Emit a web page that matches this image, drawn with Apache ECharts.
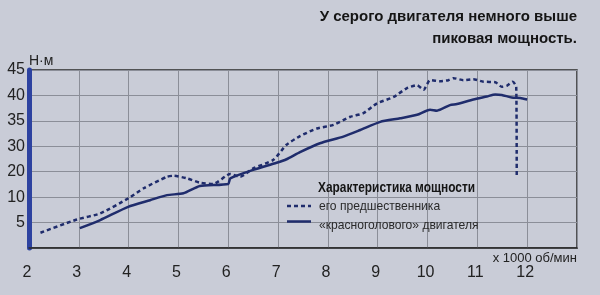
<!DOCTYPE html>
<html>
<head>
<meta charset="utf-8">
<script src="https://cdn.jsdelivr.net/npm/echarts@6/dist/echarts.min.js"></script>
<style>
html,body{margin:0;padding:0;background:#c9ccd7;}
#chart{width:600px;height:295px;}
</style>
</head>
<body>
<div id="chart"></div>
<script>
// Tick labels (the original y axis has evenly spaced gridlines with uneven labels)
var yTickValues = [0, 5, 10, 20, 30, 35, 40, 45];
var xTicks = [2, 3, 4, 5, 6, 7, 8, 9, 10, 11, 12];

// Series: predecessor (dashed)
var prevRpm = [2.23, 2.96, 3.43, 4.0, 4.3, 4.77, 4.9, 5.17, 5.43, 5.7, 6.04, 6.24, 6.5, 6.9, 7.17, 7.44, 7.78, 8.11, 8.45, 8.71, 8.98, 9.32, 9.58, 9.79, 9.92, 10.05, 10.25, 10.42, 10.52, 10.72, 10.92, 11.12, 11.36, 11.49, 11.59, 11.71, 11.78, 11.79];
var prevTorque = [3.0, 5.6, 6.8, 9.8, 13.5, 18.0, 18.4, 17.4, 15.7, 15.2, 19.1, 18.0, 21.3, 24.6, 30.3, 32.0, 33.5, 34.2, 35.8, 36.5, 38.4, 39.7, 41.4, 42.0, 41.1, 43.0, 42.8, 43.0, 43.4, 43.0, 43.2, 42.7, 42.6, 41.7, 41.9, 42.7, 41.7, 18.0];

// Series: "red-head" engine (solid)
var redRpm = [3.02, 3.43, 3.99, 4.43, 4.77, 5.1, 5.43, 6.0, 6.04, 6.5, 6.97, 7.17, 7.44, 7.84, 8.31, 8.65, 9.05, 9.45, 9.79, 10.05, 10.19, 10.45, 10.59, 10.92, 11.19, 11.36, 11.49, 11.69, 11.86, 12.0];
var redTorque = [3.9, 5.5, 8.1, 9.4, 10.8, 11.5, 14.4, 15.2, 17.4, 20.7, 23.5, 24.9, 27.7, 30.6, 31.9, 33.2, 34.8, 35.5, 36.2, 37.2, 37.0, 38.1, 38.3, 39.2, 39.8, 40.2, 40.1, 39.6, 39.5, 39.2];

var titleLines = ['У серого двигателя немного выше', 'пиковая мощность.'];
var legendTitle = 'Характеристика мощности';
var seriesNames = ['его предшественника', '«красноголового» двигателя'];
var yUnit = 'Н·м';
var xUnit = 'x 1000 об/мин';

// place a torque value on the evenly spaced tick positions of the axis
function toAxis(v) {
  for (var i = 0; i < yTickValues.length - 1; i++) {
    var a = yTickValues[i], b = yTickValues[i + 1];
    if (v <= b) return i + (v - a) / (b - a);
  }
  return yTickValues.length - 1;
}
function pairs(xs, ys) {
  return xs.map(function (x, i) { return [x, toAxis(ys[i])]; });
}

var lineColor = '#1f2c6c';
var boldFont = 'bold 14px "Liberation Sans", Arial, sans-serif';
var chart = echarts.init(document.getElementById('chart'), null, {renderer: 'canvas'});
chart.setOption({
  backgroundColor: '#c9ccd7',
  animation: false,
  grid: {left: 29, right: 23, top: 70, bottom: 47},
  xAxis: {
    type: 'value', min: 2, max: 13, interval: 1,
    axisLine: {show: true, lineStyle: {color: '#2a2a2a', width: 1.5}},
    axisTick: {show: false},
    splitLine: {show: true, lineStyle: {color: '#8b8e98', width: 1}},
    axisLabel: {
      color: '#222', fontSize: 16, fontFamily: 'Liberation Sans, Arial, sans-serif', margin: 17,
      padding: [0, 4, 0, 0],
      formatter: function (v) { return xTicks.indexOf(v) >= 0 ? String(v) : ''; }
    }
  },
  yAxis: {
    type: 'value', min: 0, max: yTickValues.length - 1, interval: 1,
    axisLine: {show: true, lineStyle: {color: '#2d42a0', width: 5}},
    axisTick: {show: false},
    splitLine: {show: true, lineStyle: {color: '#8b8e98', width: 1}},
    axisLabel: {
      color: '#222', fontSize: 16, fontFamily: 'Liberation Sans, Arial, sans-serif', margin: 4,
      formatter: function (v) { return v === 0 ? '' : String(yTickValues[v]); }
    }
  },
  graphic: [
    {type: 'rect', silent: true, z: 0, shape: {x: 29, y: 70, width: 548, height: 178},
      style: {fill: 'none', stroke: '#2a2a2a', lineWidth: 1.5}},
    {type: 'text', x: 577, y: 9, style: {text: titleLines[0], fill: '#151515', font: 'bold 15px "Liberation Sans", Arial, sans-serif', textAlign: 'right'}},
    {type: 'text', x: 577, y: 31, style: {text: titleLines[1], fill: '#151515', font: 'bold 15px "Liberation Sans", Arial, sans-serif', textAlign: 'right'}},
    {type: 'text', x: 318, y: 181, z: 10, scaleX: 0.85, style: {text: legendTitle, fill: '#151515', font: boldFont}},
    // legend samples and texts
    {type: 'line', z: 10, shape: {x1: 287, y1: 206, x2: 311, y2: 206}, style: {stroke: lineColor, lineWidth: 2.5, lineDash: [4, 3]}},
    {type: 'line', z: 10, shape: {x1: 287, y1: 221.5, x2: 311, y2: 221.5}, style: {stroke: lineColor, lineWidth: 2.5}},
    {type: 'text', x: 319, y: 200, z: 10, scaleX: 0.93, style: {text: seriesNames[0], fill: '#2a2a2a', font: '13px "Liberation Sans", Arial, sans-serif'}},
    {type: 'text', x: 319, y: 219, z: 10, scaleX: 0.93, style: {text: seriesNames[1], fill: '#2a2a2a', font: '13px "Liberation Sans", Arial, sans-serif'}},
    {type: 'text', x: 29, y: 54, style: {text: yUnit, fill: '#222', font: '14px "Liberation Sans", Arial, sans-serif'}},
    {type: 'text', x: 577, y: 252, style: {text: xUnit, fill: '#222', font: '13px "Liberation Sans", Arial, sans-serif', textAlign: 'right'}}
  ],
  series: [
    {
      name: seriesNames[0], type: 'line', data: pairs(prevRpm, prevTorque),
      showSymbol: false, symbol: 'none', smooth: 0.2, z: 3,
      lineStyle: {color: lineColor, width: 2.5, type: [4, 3]}
    },
    {
      name: seriesNames[1], type: 'line', data: pairs(redRpm, redTorque),
      showSymbol: false, symbol: 'none', smooth: 0.2, z: 3,
      lineStyle: {color: lineColor, width: 2.5}
    }
  ]
});
</script>
</body>
</html>
